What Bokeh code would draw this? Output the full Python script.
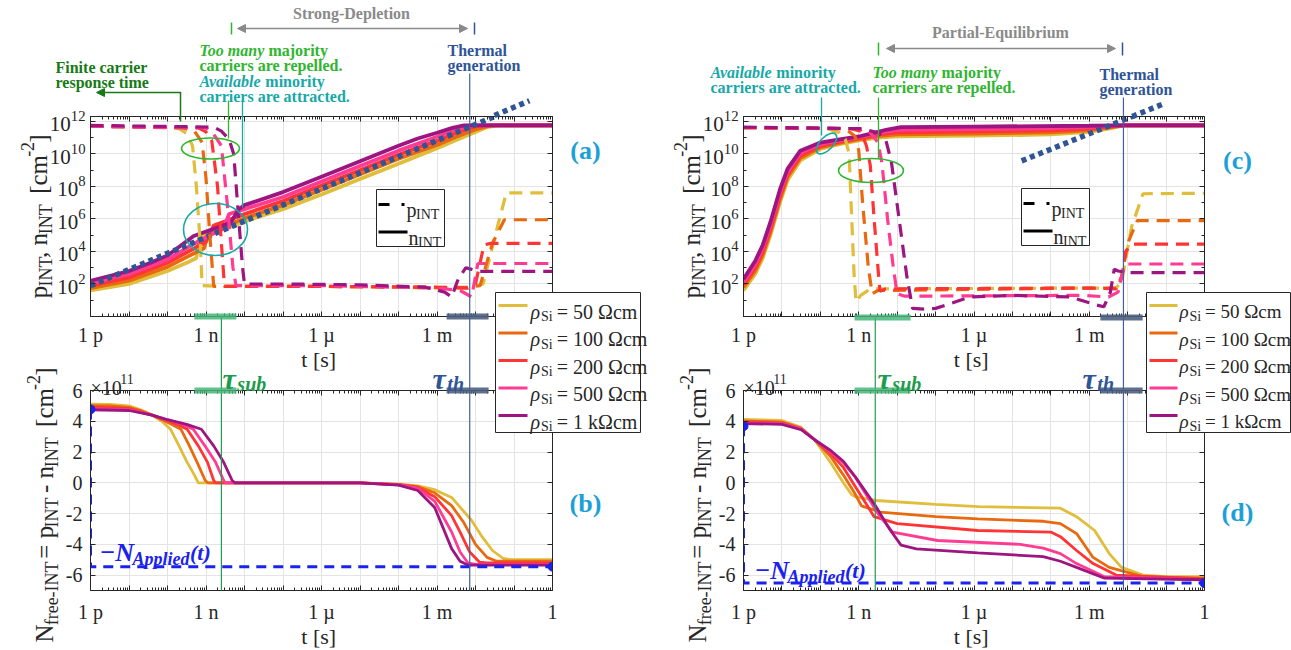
import math
from bokeh.plotting import figure
from bokeh.models import (Range1d, FixedTicker, CustomJSTickFormatter, LogAxis, LinearAxis,
                          Span, Label, Arrow, NormalHead, GridBox)
from bokeh.embed import file_html
from bokeh.resources import INLINE

SERIF = "Liberation Serif"
INK = "#262626"

# ---------------- data (time as log10(t/s)) ----------------
RHO_LABELS = ["50 Ωcm", "100 Ωcm", "200 Ωcm", "500 Ωcm", "1 kΩcm"]
COLORS = ["#E0BD3B", "#E8690E", "#FF3434", "#FF3C92", "#9C1580"]

# panel (a): log10 n_INT, log10 p_INT  [cm^-2]
a_n_50 = [(-12,1.6),(-11,2.0),(-10,2.8),(-9.5,3.3),(-9.25,3.6),(-9.18,4.9),(-9.0,5.1),(-8.5,5.4),(-8,5.85),(-7,6.6),(-6,7.5),(-5,8.45),(-4,9.4),(-3,10.35),(-2.5,10.85),(-2,11.35),(-1.7,11.65),(-1.4,11.75),(0,11.75)]
a_n_100 = [(-12,1.75),(-11,2.2),(-10,3.05),(-9.3,3.9),(-9.05,4.2),(-8.95,5.1),(-8.5,5.55),(-8,6.05),(-7,6.85),(-6,7.8),(-5,8.75),(-4,9.7),(-3,10.55),(-2.5,11.05),(-2,11.5),(-1.6,11.75),(0,11.75)]
a_n_200 = [(-12,1.9),(-11,2.4),(-10,3.3),(-9.3,4.2),(-9.0,4.6),(-8.8,5.6),(-8.5,5.85),(-8,6.3),(-7,7.1),(-6,8.05),(-5,9.0),(-4,9.95),(-3,10.8),(-2.5,11.3),(-2,11.7),(-1.8,11.75),(0,11.75)]
a_n_500 = [(-12,2.05),(-11,2.6),(-10,3.5),(-9.3,4.5),(-8.9,5.0),(-8.55,5.4),(-8.4,6.3),(-8,6.6),(-7,7.35),(-6,8.3),(-5,9.25),(-4,10.2),(-3,11.05),(-2.5,11.5),(-2.1,11.75),(0,11.75)]
a_n_1k = [(-12,2.2),(-11,2.8),(-10.44,3.3),(-10,3.75),(-9.32,4.95),(-8.8,5.4),(-8.36,5.77),(-8.15,6.6),(-8,6.85),(-7,7.65),(-6,8.6),(-5,9.55),(-4,10.5),(-3.5,10.95),(-3,11.3),(-2.6,11.6),(-2.3,11.75),(0,11.75)]

a_p_50 = [(-12,11.7),(-10,11.65),(-9.7,11.55),(-9.5,11.25),(-9.35,10.5),(-9.25,8.0),(-9.15,4.5),(-9.1,1.9),(-8.5,1.85),(-6,1.85),(-4,1.8),(-3,1.75),(-2.2,1.75),(-1.8,2.0),(-1.4,5.8),(-1.2,7.6),(0,7.6)]
a_p_100 = [(-12,11.7),(-9.6,11.6),(-9.3,11.4),(-9.1,10.7),(-9.0,8.5),(-8.9,5.0),(-8.8,1.85),(-6,1.85),(-3,1.8),(-2.2,1.8),(-1.88,1.9),(-1.56,4.5),(-1.25,5.95),(0,5.95)]
a_p_200 = [(-12,11.7),(-9.2,11.6),(-9.0,11.35),(-8.85,10.8),(-8.7,8.0),(-8.6,4.5),(-8.52,1.85),(-6,1.85),(-3,1.8),(-2.2,1.75),(-2.0,2.0),(-1.78,4.4),(-1.6,4.5),(0,4.5)]
a_p_500 = [(-12,11.7),(-9.0,11.6),(-8.8,11.2),(-8.6,10.5),(-8.45,7.0),(-8.3,3.0),(-8.22,1.9),(-6,1.9),(-3,1.75),(-2.4,1.6),(-2.1,1.2),(-1.94,3.26),(0,3.26)]
a_p_1k = [(-12,11.75),(-8.8,11.65),(-8.6,11.4),(-8.4,10.9),(-8.28,10.0),(-8.15,6.0),(-8.05,3.0),(-8.0,2.0),(-7,2.0),(-5,1.95),(-3.3,1.8),(-2.8,1.5),(-2.62,1.2),(-2.45,2.3),(-2.25,3.0),(-2.1,2.9),(-1.9,2.77),(0,2.77)]
a_thermal = [(-12,1.9),(-0.6,13.2)]

# panel (b): N_free-INT in units of 1e11 cm^-2
b_50 = [(-12,5.12),(-11.5,5.1),(-11,5.0),(-10.7,4.75),(-10.4,4.4),(-10.15,4.0),(-9.92,3.48),(-9.7,2.4),(-9.49,1.33),(-9.3,0.5),(-9.2,0.0),(-5,0.0),(-4,-0.08),(-3.5,-0.2),(-3.06,-0.45),(-2.62,-0.95),(-2.1,-2.45),(-1.83,-3.5),(-1.56,-4.4),(-1.28,-4.92),(-1.1,-5.0),(0,-5.0)]
b_100 = [(-12,5.02),(-11.5,5.0),(-11,4.9),(-10.7,4.7),(-10.4,4.4),(-10.1,4.05),(-9.9,3.8),(-9.65,3.48),(-9.45,2.5),(-9.23,1.33),(-9.02,0.15),(-8.95,0.0),(-5,0.0),(-4,-0.1),(-3.5,-0.25),(-3.06,-0.65),(-2.62,-1.48),(-2.3,-2.6),(-2.0,-4.0),(-1.7,-4.85),(-1.45,-5.1),(0,-5.1)]
b_200 = [(-12,4.92),(-11,4.82),(-10.4,4.4),(-10,4.05),(-9.75,3.8),(-9.49,3.48),(-9.2,2.4),(-8.96,1.33),(-8.8,0.15),(-8.75,0.0),(-5,0.0),(-4,-0.12),(-3.5,-0.3),(-3.06,-0.9),(-2.62,-2.13),(-2.4,-3.2),(-2.15,-4.5),(-1.9,-5.15),(-1.7,-5.2),(0,-5.2)]
b_500 = [(-12,4.82),(-11,4.75),(-10.4,4.4),(-10,4.1),(-9.6,3.8),(-9.33,3.48),(-9.0,2.3),(-8.75,1.33),(-8.54,0.15),(-8.5,0.0),(-5,0.0),(-4,-0.13),(-3.5,-0.35),(-3.06,-1.2),(-2.62,-3.2),(-2.4,-4.5),(-2.2,-5.2),(-2.0,-5.3),(0,-5.3)]
b_1k = [(-12,4.75),(-11,4.7),(-10.4,4.4),(-10,4.1),(-9.5,3.8),(-9.12,3.48),(-8.8,2.4),(-8.54,1.33),(-8.32,0.15),(-8.25,0.0),(-5,0.0),(-4,-0.15),(-3.5,-0.5),(-3.06,-1.6),(-2.62,-4.28),(-2.4,-5.1),(-2.2,-5.35),(0,-5.35)]
b_applied = [4.77, -5.45]

# panel (c)
c_n_50 = [(-12,1.6),(-11.7,2.6),(-11.5,3.6),(-11.3,5.0),(-11.04,7.1),(-10.85,8.4),(-10.52,9.6),(-10.0,10.3),(-9.5,10.6),(-8.95,10.85),(-8.5,11.0),(-8,11.08),(-6,11.12),(-4,11.2),(-3,11.35),(-2.5,11.55),(-2.1,11.75),(0,11.75)]
c_n_100 = [(-12,1.8),(-11.7,2.8),(-11.5,3.8),(-11.3,5.2),(-11.04,7.3),(-10.85,8.6),(-10.52,9.75),(-10.0,10.4),(-9.5,10.68),(-8.95,10.92),(-8.5,11.1),(-8,11.2),(-6,11.25),(-4,11.32),(-3,11.45),(-2.5,11.62),(-2.1,11.75),(0,11.75)]
c_n_200 = [(-12,1.95),(-11.7,3.0),(-11.5,4.0),(-11.3,5.4),(-11.04,7.5),(-10.85,8.75),(-10.52,9.9),(-10.0,10.5),(-9.5,10.76),(-8.95,10.98),(-8.5,11.2),(-8,11.33),(-6,11.38),(-4,11.45),(-3,11.55),(-2.5,11.68),(-2.1,11.75),(0,11.75)]
c_n_500 = [(-12,2.1),(-11.7,3.2),(-11.5,4.2),(-11.3,5.6),(-11.04,7.7),(-10.85,8.9),(-10.52,10.05),(-10.0,10.6),(-9.5,10.83),(-8.95,11.04),(-8.5,11.28),(-8,11.48),(-6,11.52),(-4,11.58),(-3,11.65),(-2.3,11.75),(0,11.75)]
c_n_1k = [(-12,2.3),(-11.7,3.4),(-11.5,4.4),(-11.3,5.8),(-11.04,7.9),(-10.85,9.1),(-10.52,10.2),(-10.0,10.7),(-9.5,10.9),(-8.95,11.1),(-8.5,11.35),(-8.26,11.5),(-7.9,11.65),(-6,11.68),(-3,11.73),(-2.2,11.75),(0,11.75)]

c_p_50 = [(-12,11.62),(-9.8,11.55),(-9.5,11.3),(-9.35,10.9),(-9.25,10.0),(-9.2,7.0),(-9.12,2.5),(-9.07,0.9),(-8.95,1.3),(-8.7,1.7),(-3,1.75),(-2.3,1.75),(-2.15,2.2),(-1.9,5.5),(-1.6,7.55),(0,7.58)]
c_p_100 = [(-12,11.62),(-9.5,11.55),(-9.3,11.45),(-9.1,11.1),(-9.0,10.2),(-8.9,7.0),(-8.75,3.0),(-8.65,1.4),(-8.5,1.6),(-3,1.75),(-2.25,1.75),(-2.15,2.5),(-2.0,4.5),(-1.75,5.9),(0,5.9)]
c_p_200 = [(-12,11.62),(-9.2,11.55),(-8.95,11.4),(-8.8,10.5),(-8.7,9.3),(-8.6,6.0),(-8.5,3.0),(-8.45,1.55),(-8.3,1.7),(-3,1.75),(-2.3,1.7),(-2.15,2.5),(-2.05,4.0),(-1.9,4.45),(0,4.45)]
c_p_500 = [(-12,11.62),(-9.0,11.55),(-8.7,11.3),(-8.5,10.7),(-8.4,9.5),(-8.25,6.0),(-8.1,3.0),(-8.0,1.4),(-7.8,1.25),(-3.2,1.3),(-2.5,1.2),(-2.25,1.5),(-2.1,3.0),(-2.0,3.23),(0,3.23)]
c_p_1k = [(-12,11.65),(-8.9,11.55),(-8.5,11.3),(-8.3,10.9),(-8.15,9.5),(-7.95,6.0),(-7.75,2.5),(-7.6,0.5),(-7.3,0.45),(-7.0,0.5),(-6.1,1.2),(-5,1.3),(-3.5,1.2),(-2.8,0.7),(-2.62,0.6),(-2.45,1.5),(-2.35,2.9),(-2.25,2.8),(-2.0,2.7),(0,2.7)]
c_thermal = [(-4.76,9.57),(-1.04,13.1)]

# panel (d)
d_50 = [(-12,4.12),(-11,4.05),(-10.5,3.6),(-10.15,2.8),(-9.73,1.3),(-9.4,0.0),(-9.19,-0.75),(-9.1,-0.9),(-8.55,-1.15),(-7,-1.4),(-5.88,-1.55),(-3.75,-1.65),(-3.33,-2.2),(-2.86,-3.1),(-2.48,-4.6),(-2.16,-5.5),(-1.6,-6.0),(-1,-6.1),(0,-6.1)]
d_100 = [(-12,4.02),(-11,3.95),(-10.5,3.55),(-10.15,2.8),(-9.73,1.7),(-9.4,0.5),(-9.1,-0.7),(-8.93,-1.5),(-8.44,-1.9),(-7,-2.2),(-5.9,-2.35),(-4.19,-2.5),(-3.75,-2.65),(-3.33,-3.3),(-2.9,-4.85),(-2.48,-5.5),(-1.6,-6.1),(0,-6.2)]
d_200 = [(-12,3.96),(-11,3.9),(-10.5,3.5),(-10.15,2.8),(-9.73,1.9),(-9.4,1.0),(-9.1,-0.2),(-8.8,-1.4),(-8.6,-2.2),(-8.0,-2.65),(-5.9,-3.1),(-4.0,-3.2),(-3.75,-3.5),(-3.33,-4.4),(-2.9,-5.25),(-2.3,-6.0),(0,-6.25)]
d_500 = [(-12,3.9),(-11,3.85),(-10.5,3.5),(-10.15,2.8),(-9.73,2.0),(-9.4,1.3),(-9.1,0.4),(-8.8,-0.8),(-8.5,-2.0),(-8.12,-3.2),(-6.95,-3.75),(-4.8,-4.0),(-4.2,-4.25),(-3.75,-4.6),(-3.33,-5.25),(-2.6,-6.1),(0,-6.3)]
d_1k = [(-12,3.85),(-11,3.8),(-10.5,3.45),(-10.15,2.8),(-9.73,2.1),(-9.4,1.4),(-9.08,0.36),(-8.7,-1.0),(-8.55,-1.55),(-8.2,-3.0),(-7.9,-4.05),(-7.5,-4.3),(-5.9,-4.55),(-4.2,-4.8),(-3.75,-5.1),(-3.33,-5.5),(-2.6,-6.2),(0,-6.3)]
d_applied = [3.68, -6.52]

# characteristic times (log10 s)
TAU_SUB_L, TAU_SUB_L_RANGE = -8.6, (-9.3, -8.21)
TAU_TH_L, TAU_TH_L_RANGE = -2.15, (-2.75, -1.66)
TAU_SUB_R, TAU_SUB_R_RANGE = -8.57, (-9.11, -7.65)
TAU_TH_R, TAU_TH_R_RANGE = -2.11, (-2.71, -1.61)

A_N = [a_n_50, a_n_100, a_n_200, a_n_500, a_n_1k]
A_P = [a_p_50, a_p_100, a_p_200, a_p_500, a_p_1k]
B_N = [b_50, b_100, b_200, b_500, b_1k]
C_N = [c_n_50, c_n_100, c_n_200, c_n_500, c_n_1k]
C_P = [c_p_50, c_p_100, c_p_200, c_p_500, c_p_1k]
D_N = [d_50, d_100, d_200, d_500, d_1k]

# ---------------- colours of annotations ----------------
C_GREEN = "#30B530"
C_CYAN = "#17A8A8"
C_DKGREEN = "#167A16"
C_BLUE = "#2F5597"
C_GRAY = "#8A8A8A"
C_LETTER = "#1CA0D8"
C_NAPP = "#1A22EE"
C_TSUB = "#1C9C4C"
C_TSUBLINE = "#1F9E52"
C_TTHLINE = "#4060A0"


def xs(pts):
    return [10.0 ** p[0] for p in pts]


def vlog(pts):
    return [10.0 ** p[1] for p in pts]


def vlin(pts):
    return [p[1] for p in pts]


def style_axis(ax, size="20px", standoff=6):
    ax.axis_line_color = INK
    ax.major_tick_line_color = INK
    ax.minor_tick_line_color = INK
    ax.major_tick_in = 5
    ax.major_tick_out = 0
    ax.minor_tick_in = 3
    ax.minor_tick_out = 0
    ax.major_label_text_font = SERIF
    ax.major_label_text_font_size = size
    ax.major_label_text_color = INK
    ax.major_label_standoff = standoff


def x_ticker():
    return FixedTicker(ticks=[10.0 ** k for k in range(-12, 1)],
                       minor_ticks=[m * 10.0 ** k for k in range(-12, 0) for m in range(2, 10)])


def x_formatter():
    return CustomJSTickFormatter(code="""
const e = Math.log10(tick); const r = Math.round(e);
if (Math.abs(e - r) > 1e-6) { return ""; }
const m = {"-12": "1 p", "-9": "1 n", "-6": "1 µ", "-3": "1 m", "0": "1"};
return m[String(r)] || "";
""")


def blank():
    return CustomJSTickFormatter(code="return '';")


def panel(w, h, bl, br, bt, bb, ylog, bottom_standoff):
    if ylog:
        yr = Range1d(1.0, 10 ** 12.3)
    else:
        yr = Range1d(-7, 6)
    p = figure(width=w, height=h, title=None, x_axis_type="log",
               y_axis_type=("log" if ylog else "linear"),
               x_range=Range1d(1e-12, 1.0), y_range=yr,
               output_backend="svg", toolbar_location=None,
               min_border_left=bl, min_border_right=br,
               min_border_top=bt, min_border_bottom=bb)
    p.background_fill_color = "white"
    p.border_fill_color = "white"
    p.outline_line_color = INK
    p.xaxis.ticker = x_ticker()
    p.xaxis.formatter = x_formatter()
    style_axis(p.xaxis[0], size="20px", standoff=bottom_standoff)
    if ylog:
        p.yaxis.ticker = FixedTicker(ticks=[10.0 ** k for k in range(2, 13, 2)],
                                     minor_ticks=[10.0 ** k for k in range(1, 13, 2)])
        style_axis(p.yaxis[0], size="21px", standoff=5)
        right = LogAxis(ticker=FixedTicker(ticks=[10.0 ** k for k in range(2, 13, 2)],
                                           minor_ticks=[10.0 ** k for k in range(1, 13, 2)]),
                        formatter=blank())
    else:
        p.yaxis.ticker = FixedTicker(ticks=[-6, -4, -2, 0, 2, 4, 6], minor_ticks=[])
        p.yaxis.formatter = CustomJSTickFormatter(code="return String(Math.round(tick));")
        style_axis(p.yaxis[0], size="20px", standoff=8)
        right = LinearAxis(ticker=FixedTicker(ticks=[-6, -4, -2, 0, 2, 4, 6], minor_ticks=[]),
                           formatter=blank())
    top = LogAxis(ticker=x_ticker(), formatter=blank())
    style_axis(top)
    style_axis(right)
    p.add_layout(top, "above")
    p.add_layout(right, "right")
    p.xgrid.grid_line_color = "#E4E4E4"
    p.ygrid.grid_line_color = "#E4E4E4"
    return p


# ---------------- panels (page has no margin: canvas coords = page coords) ----------------
pa = panel(640, 362, 90, 88, 115, 46, True, 7)
pb = panel(640, 288, 90, 88, 28, 60, False, 10)
pc = panel(651, 362, 103, 87, 116, 45, True, 7)
pd = panel(651, 288, 103, 87, 28, 60, False, 10)

for p, NS, PS, TH in ((pa, A_N, A_P, a_thermal), (pc, C_N, C_P, c_thermal)):
    for s, col in zip(NS, COLORS):
        p.line(xs(s), vlog(s), line_color=col, line_width=3.8)
    p.line(xs(TH), vlog(TH), line_color=C_BLUE, line_width=5.5, line_dash="5 4")
    for s, col in zip(PS, COLORS):
        p.line(xs(s), vlog(s), line_color=col, line_width=3.2, line_dash="13 8")

for p, NS, APP in ((pb, B_N, b_applied), (pd, D_N, d_applied)):
    for s, col in zip(NS, COLORS):
        p.line(xs(s), vlin(s), line_color=col, line_width=2.8)
    p.line([1e-12, 1e-12, 1.0], [APP[0], APP[1], APP[1]], line_color=C_NAPP,
           line_width=3, line_dash="10 7")
    p.scatter([1e-12, 1.0], [APP[0], APP[1]], size=9, color=C_NAPP)

pa.add_layout(Span(location=10 ** TAU_TH_L, dimension="height", line_color=C_TTHLINE, line_width=1.2))
pb.add_layout(Span(location=10 ** TAU_TH_L, dimension="height", line_color=C_TTHLINE, line_width=1.2))
pb.add_layout(Span(location=10 ** TAU_SUB_L, dimension="height", line_color=C_TSUBLINE, line_width=1.2))
pc.add_layout(Span(location=10 ** TAU_TH_R, dimension="height", line_color=C_TTHLINE, line_width=1.2))
pd.add_layout(Span(location=10 ** TAU_TH_R, dimension="height", line_color=C_TTHLINE, line_width=1.2))
pd.add_layout(Span(location=10 ** TAU_SUB_R, dimension="height", line_color=C_TSUBLINE, line_width=1.2))

# ---------------- overlay (annotations across panels, page pixel coords) ----------------
ov = figure(width=1291, height=650, title=None, x_range=Range1d(0, 1291), y_range=Range1d(650, 0),
            output_backend="svg", toolbar_location=None, min_border=0,
            x_axis_location=None, y_axis_location=None)
ov.frame_align = False
ov.grid.visible = False
ov.background_fill_color = None
ov.border_fill_color = None
ov.outline_line_color = None


def xl(lt):
    return 90 + (lt + 12) / 12 * 462


def xr(lt):
    return 743 + (lt + 12) / 12 * 461


def ya(lv):
    return 316 - lv / 12.3 * 201


def yc(lv):
    return 317 - lv / 12.3 * 201


CW = {' ': .25, '!': .333, '(': .333, ')': .333, ',': .25, '-': .333, '.': .25, '=': .564,
      '[': .333, ']': .333, 'Ω': .768, 'ρ': .55, 'τ': .5, '×': .564, '−': .564, 'µ': .5}
for ch in "0123456789":
    CW[ch] = .5
CW.update(dict(zip("ABCDEFGHIJKLMNOPQRSTUVWXYZ",
                   [.722, .667, .667, .722, .611, .556, .722, .722, .333, .389, .722, .611, .889,
                    .722, .722, .556, .722, .667, .556, .611, .722, .722, .944, .722, .722, .611])))
CW.update(dict(zip("abcdefghijklmnopqrstuvwxyz",
                   [.444, .5, .444, .5, .444, .333, .5, .5, .278, .278, .5, .278, .778, .5, .5, .5,
                    .5, .333, .389, .278, .5, .5, .722, .5, .5, .444])))
STYLE_K = {"normal": 0.95, "italic": 0.95, "bold": 1.06, "bold italic": 0.99}


def twidth(txt, size, style):
    return sum(CW.get(c, .5) for c in txt) * size * STYLE_K[style]


def rich_len(pieces):
    return sum(twidth(t, s, st) for t, s, sh, st, c in pieces)


def rich(x, y, pieces, vertical=False):
    cur = 0.0
    for txt, size, shift, style, color in pieces:
        body = txt.lstrip(" ")
        off = twidth(txt[:len(txt) - len(body)], size, style)
        if body:
            kw = dict(text=body, text_font=SERIF, text_font_size=f"{size}px",
                      text_font_style=style, text_color=color,
                      text_baseline="alphabetic", text_align="left")
            if vertical:
                ov.add_layout(Label(x=x + shift, y=y - cur - off, angle=math.pi / 2, **kw))
            else:
                ov.add_layout(Label(x=x + cur + off, y=y + shift, **kw))
        cur += twidth(txt, size, style)


def text(x, y, s, size, style, color, align="center"):
    ov.add_layout(Label(x=x, y=y, text=s, text_font=SERIF, text_font_size=f"{size}px",
                        text_font_style=style, text_color=color, text_align=align,
                        text_baseline="middle"))


def seg(x0, y0, x1, y1, color, width=1.5, dash="solid", alpha=1.0):
    ov.segment(x0=[x0], y0=[y0], x1=[x1], y1=[y1], line_color=color, line_width=width,
               line_dash=dash, line_alpha=alpha)


# y-axis labels (rotated, built from pieces)
ylab_top = [("p", 25, 0, "normal", INK), ("INT", 18, 7, "normal", INK), (", n", 25, 0, "normal", INK),
            ("INT", 18, 7, "normal", INK), ("  [cm", 25, 0, "normal", INK), ("-2", 18, -11, "normal", INK),
            ("]", 25, 0, "normal", INK)]
ylab_bot = [("N", 25, 0, "normal", INK), ("free-INT", 18, 7, "normal", INK), (" = p", 25, 0, "normal", INK),
            ("INT", 18, 7, "normal", INK), (" - n", 25, 0, "normal", INK), ("INT", 18, 7, "normal", INK),
            ("  [cm", 25, 0, "normal", INK), ("-2", 18, -11, "normal", INK), ("]", 25, 0, "normal", INK)]
for dx in (0, 653):
    rich(38 + dx, 216 + rich_len(ylab_top) / 2, ylab_top, vertical=True)
    rich(44 + dx, 642, ylab_bot, vertical=True)

# x-axis labels
for cx in (321, 973.5):
    text(cx, 359, "t  [s]", 22, "normal", INK)
    text(cx, 636, "t  [s]", 22, "normal", INK)

# x10^11 multipliers
for x0 in (90, 743):
    rich(x0, 387, [("×10", 20, 0, "normal", INK), ("11", 14, -9, "normal", INK)])

# panel letters
text(585, 150, "(a)", 26, "bold", C_LETTER)
text(585, 503, "(b)", 26, "bold", C_LETTER)
text(1237, 160, "(c)", 26, "bold", C_LETTER)
text(1237, 512, "(d)", 26, "bold", C_LETTER)

# -N_Applied(t)
for x0, yb in ((99, 552), (754, 570)):
    rich(x0, yb, [("−N", 26, 0, "bold italic", C_NAPP), ("Applied", 18, 6, "bold italic", C_NAPP),
                  ("(t)", 22, 0, "bold italic", C_NAPP)])

# tau labels, tau lines between panels, range bars
for X, tsub, tsub_r, tth, tth_r, yt_top, ytop, ybot, xsub_lab, xth_lab in (
        (xl, TAU_SUB_L, TAU_SUB_L_RANGE, TAU_TH_L, TAU_TH_L_RANGE, 73, 115, 316, 222, 432),
        (xr, TAU_SUB_R, TAU_SUB_R_RANGE, TAU_TH_R, TAU_TH_R_RANGE, 97, 116, 317, 877, 1082)):
    seg(X(tth), yt_top, X(tth), ytop, C_TTHLINE, 1.2)
    seg(X(tth), ybot, X(tth), 390, C_TTHLINE, 1.2)
    seg(X(tsub), ybot, X(tsub), 390, C_TSUBLINE, 1.2)
    for yy in (ybot, 390):
        seg(X(tsub_r[0]), yy, X(tsub_r[1]), yy, "#45B578", 6, alpha=0.85)
        seg(X(tth_r[0]), yy, X(tth_r[1]), yy, "#4E5F80", 6, alpha=0.9)
    rich(xsub_lab, 378, [("τ", 30, 0, "bold italic", C_TSUB), ("sub", 20, 5, "bold italic", C_TSUB)])
    rich(xth_lab, 378, [("τ", 30, 0, "bold italic", C_BLUE), ("th", 20, 5, "bold italic", C_BLUE)])

# thermal-generation guide lines beyond the top frames
for X, Y, TH in ((xl, ya, a_thermal), (xr, yc, c_thermal)):
    (t0, v0), (t1, v1) = TH
    tc = t0 + (12.3 - v0) * (t1 - t0) / (v1 - v0)
    seg(X(tc), Y(12.3), X(t1), Y(v1), C_BLUE, 5.5, "5 4")

# regime arrows and headers
text(351, 13, "Strong-Depletion", 16, "bold", C_GRAY)
ov.add_layout(Arrow(start=NormalHead(size=8, fill_color=C_GRAY, line_color=C_GRAY),
                    end=NormalHead(size=8, fill_color=C_GRAY, line_color=C_GRAY),
                    x_start=237, y_start=28, x_end=467, y_end=28, line_color=C_GRAY, line_width=1.5))
seg(231, 22, 231, 34, C_GREEN, 1.5)
seg(474, 22, 474, 34, C_BLUE, 1.5)

text(1000, 32, "Partial-Equilibrium", 16, "bold", C_GRAY)
ov.add_layout(Arrow(start=NormalHead(size=8, fill_color=C_GRAY, line_color=C_GRAY),
                    end=NormalHead(size=8, fill_color=C_GRAY, line_color=C_GRAY),
                    x_start=886, y_start=48, x_end=1115, y_end=48, line_color=C_GRAY, line_width=1.5))
seg(878, 42, 878, 55, C_GREEN, 1.5)
seg(1122, 42, 1122, 55, C_BLUE, 1.5)


def repelled(x0, y0):
    rich(x0, y0, [("Too many", 16, 0, "bold italic", C_GREEN), (" majority", 16, 0, "bold", C_GREEN)])
    rich(x0, y0 + 14.5, [("carriers are repelled.", 16, 0, "bold", C_GREEN)])


def attracted(x0, y0):
    rich(x0, y0, [("Available", 16, 0, "bold italic", C_CYAN), (" minority", 16, 0, "bold", C_CYAN)])
    rich(x0, y0 + 14.5, [("carriers are attracted.", 16, 0, "bold", C_CYAN)])


repelled(199, 50)
attracted(199, 81)
attracted(710, 72)
repelled(872, 72)

for x0, y0 in ((447, 50), (1099, 74)):
    rich(x0, y0, [("Thermal", 16, 0, "bold", C_BLUE)])
    rich(x0, y0 + 14.5, [("generation", 16, 0, "bold", C_BLUE)])

rich(55, 67, [("Finite carrier", 16, 0, "bold", C_DKGREEN)])
rich(55, 81.5, [("response time", 16, 0, "bold", C_DKGREEN)])
seg(180, 121, 180, 92, C_DKGREEN, 1.5)
ov.add_layout(Arrow(end=NormalHead(size=8, fill_color=C_DKGREEN, line_color=C_DKGREEN),
                    x_start=180.7, y_start=92, x_end=96, y_end=92, line_color=C_DKGREEN, line_width=1.5))

# pointers and ellipses
seg(228, 100, 228, 138, C_GREEN, 1.3)
seg(242, 100, 242, 207, C_CYAN, 1.3)
ov.ellipse(x=[210], y=[148], width=[58], height=[21], fill_color=None, line_color=C_GREEN, line_width=1.6)
ov.ellipse(x=[215], y=[229], width=[64], height=[52], fill_color=None, line_color=C_CYAN, line_width=1.6)

seg(821, 97, 821, 135, C_CYAN, 1.3)
seg(878, 97, 878, 158, C_GREEN, 1.3)
ov.ellipse(x=[826], y=[143], width=[26], height=[13], angle=[0.8], fill_color=None,
           line_color=C_CYAN, line_width=1.6)
ov.ellipse(x=[870.5], y=[170], width=[65], height=[24], fill_color=None, line_color=C_GREEN, line_width=1.6)

# line-style legends
for dx, dy in ((0, 0), (645, -1)):
    ov.quad(left=[376 + dx], right=[444 + dx], top=[189 + dy], bottom=[246 + dy],
            fill_color="white", line_color=INK, line_width=1)
    seg(378 + dx, 204 + dy, 404 + dx, 204 + dy, "black", 3, "11 12")
    rich(406 + dx, 209 + dy, [("p", 20, 0, "normal", INK), ("INT", 14, 5, "normal", INK)])
    seg(378 + dx, 231.5 + dy, 407 + dx, 231.5 + dy, "black", 3)
    rich(408 + dx, 237 + dy, [("n", 20, 0, "normal", INK), ("INT", 14, 5, "normal", INK)])

# resistivity legends
ROW_Y = [305, 332.5, 360, 387.5, 415]
for bx0, bx1, lx0, lx1, tx, fs in ((495, 640, 498, 527, 530, 20), (1146, 1290, 1149, 1177, 1179, 19)):
    ov.quad(left=[bx0], right=[bx1], top=[292], bottom=[432], fill_color="white",
            line_color=INK, line_width=1)
    for yy, col, lab in zip(ROW_Y, COLORS, RHO_LABELS):
        seg(lx0, yy, lx1, yy, col, 3)
        rich(tx, yy + 6, [("ρ", fs, 0, "italic", INK), ("Si", 14, 5, "normal", INK),
                          (" = " + lab, fs, 0, "normal", INK)])

grid = GridBox(children=[(pa, 0, 0), (pc, 0, 1), (pb, 1, 0), (pd, 1, 1), (ov, 0, 0, 2, 2)], spacing=0)

open("out.html", "w").write(file_html(grid, INLINE))
